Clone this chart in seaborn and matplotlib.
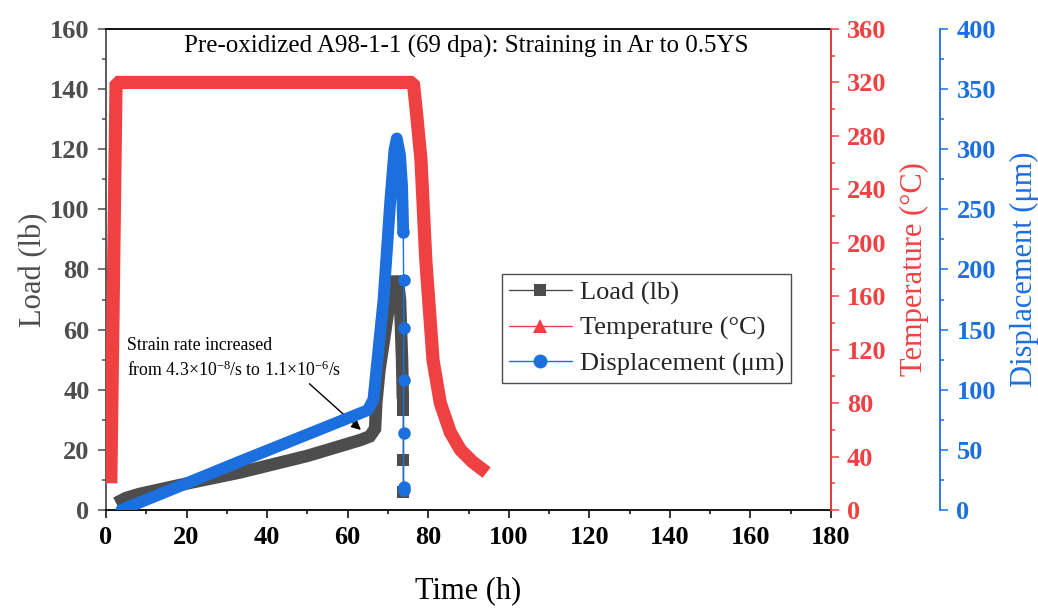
import matplotlib
matplotlib.use("Agg")
import matplotlib.pyplot as plt
from matplotlib.lines import Line2D
from matplotlib.ticker import MultipleLocator
import pandas as pd
import seaborn as sns

sns.set_theme(style="ticks")
plt.rcParams['font.family'] = ['Liberation Serif', 'DejaVu Serif']
plt.rcParams['mathtext.fontset'] = 'custom'
plt.rcParams['mathtext.rm'] = 'Liberation Serif'
plt.rcParams['mathtext.it'] = 'Liberation Serif:italic'

# Load (lb) vs time (h) - dense part
load_t = [2.5, 5.0, 8.2, 20.0, 33.3, 50.0, 63.2, 65.5, 66.8, 67.1, 67.9, 70.5, 71.3, 72.5, 73.0, 73.5, 73.7]
load_v = [2.3, 4.0, 5.3, 8.8, 12.5, 18.0, 23.3, 24.5, 27.0, 35.6, 46.6, 70.0, 76.0, 76.0, 70.0, 50.0, 37.0]
# Load - sparse points after unloading
load_sp_t = [73.7, 73.8, 73.8, 73.8]
load_sp_v = [37.0, 33.3, 16.6, 6.0]

# Temperature (C)
temp_t = [1.2, 2.5, 76.3, 77.0, 78.2, 79.4, 81.2, 83.0, 85.5, 88.0, 91.0, 94.5]
temp_v = [20, 320, 320, 300, 262, 187, 112, 80, 58, 45, 36, 28]

# Displacement (um) - dense part
disp_t = [3.8, 16.6, 33.0, 65.0, 66.4, 68.9, 70.6, 71.6, 72.2, 73.0, 73.5, 73.8]
disp_v = [0, 17.5, 40.0, 83.0, 92.0, 175.0, 258.0, 299.0, 309.0, 295.0, 270.0, 231.0]
# Displacement - sparse points
disp_sp_t = [73.8, 73.9, 73.9, 73.9, 73.9, 73.9, 73.9]
disp_sp_v = [231.0, 191.0, 151.0, 108.0, 64.0, 19.0, 17.0]

c_load = '#4d4d4d'
c_temp = '#f04142'
c_disp = '#1b6fde'

fig = plt.figure(figsize=(10.38, 6.08), dpi=100)
ax = fig.add_axes([0.1021, 0.1612, 0.6985, 0.7911])
ax2 = ax.twinx()
ax3 = ax.twinx()
ax3.spines['right'].set_position(('outward', 78.5))

df_load = pd.DataFrame({'t': load_t, 'v': load_v})
df_load_sp = pd.DataFrame({'t': load_sp_t, 'v': load_sp_v})
df_temp = pd.DataFrame({'t': temp_t, 'v': temp_v})
df_disp = pd.DataFrame({'t': disp_t, 'v': disp_v})
df_disp_sp = pd.DataFrame({'t': disp_sp_t, 'v': disp_sp_v})

sns.lineplot(data=df_load, x='t', y='v', ax=ax, sort=False, estimator=None, color=c_load,
             lw=9, solid_joinstyle='miter', solid_capstyle='butt')
sns.lineplot(data=df_load_sp, x='t', y='v', ax=ax, sort=False, estimator=None, color=c_load,
             lw=1, marker='s', markersize=8, markeredgewidth=0)
sns.lineplot(data=df_temp, x='t', y='v', ax=ax2, sort=False, estimator=None, color=c_temp,
             lw=9.5, solid_joinstyle='bevel', solid_capstyle='butt')
sns.lineplot(data=df_disp, x='t', y='v', ax=ax3, sort=False, estimator=None, color=c_disp,
             lw=8.5, solid_joinstyle='round', solid_capstyle='round')
sns.lineplot(data=df_disp_sp, x='t', y='v', ax=ax3, sort=False, estimator=None, color=c_disp,
             lw=1, marker='o', markersize=9, markeredgewidth=0)

ax.set_xlim(0, 180)
ax.set_ylim(0, 160)
ax2.set_ylim(0, 360)
ax3.set_ylim(0, 400)
ax.xaxis.set_major_locator(MultipleLocator(20))
ax.xaxis.set_minor_locator(MultipleLocator(10))
ax.yaxis.set_major_locator(MultipleLocator(20))
ax.yaxis.set_minor_locator(MultipleLocator(10))
ax2.yaxis.set_major_locator(MultipleLocator(40))
ax2.yaxis.set_minor_locator(MultipleLocator(20))
ax3.yaxis.set_major_locator(MultipleLocator(50))
ax3.yaxis.set_minor_locator(MultipleLocator(25))

for a in (ax, ax2, ax3):
    for s in a.spines.values():
        s.set_linewidth(1.3)
    a.tick_params(which='major', length=5.8, width=1.1, labelsize=19)
    a.tick_params(which='minor', length=3, width=1.1)

ax.spines['top'].set_color('black')
ax.spines['bottom'].set_color('black')
ax.spines['left'].set_color(c_load)
ax2.spines['right'].set_color(c_temp)
ax3.spines['right'].set_color(c_disp)
for a in (ax2, ax3):
    a.spines['left'].set_visible(False)
    a.spines['top'].set_visible(False)
    a.spines['bottom'].set_visible(False)

ax.tick_params(axis='x', which='both', colors='black', pad=6)
ax.tick_params(axis='y', which='both', colors=c_load, pad=6)
ax2.tick_params(axis='y', which='both', colors=c_temp, pad=5.5)
ax3.tick_params(axis='y', which='both', colors=c_disp, pad=6)
for a in (ax, ax2, ax3):
    for lab in a.get_xticklabels() + a.get_yticklabels():
        lab.set_fontweight('bold')

ax.set_xlabel('Time (h)', fontsize=22, color='black', labelpad=19)
ax.set_ylabel('Load (lb)', fontsize=22, color=c_load, labelpad=1)
ax2.set_ylabel('Temperature (°C)', fontsize=22, color=c_temp, labelpad=10)
ax3.set_ylabel('Displacement (μm)', fontsize=22, color=c_disp, labelpad=10)

ax.text(0.497, 0.963, 'Pre-oxidized A98-1-1 (69 dpa): Straining in Ar to 0.5YS',
        transform=ax.transAxes, ha='center', va='center', fontsize=18, color='black')

ax.annotate('', xy=(63.8, 26.0), xytext=(50.0, 42.6),
            arrowprops=dict(arrowstyle='-|>', color='black', lw=1, mutation_scale=14))
ax.text(5.2, 50.4, 'Strain rate increased\nfrom 4.3×10$^{-8}$/s to 1.1×10$^{-6}$/s',
        fontsize=12.8, ha='left', va='center', color='black', linespacing=1.4)

handles = [
    Line2D([], [], color=c_load, lw=1, marker='s', markersize=8.5, markeredgewidth=0),
    Line2D([], [], color=c_temp, lw=1, marker='^', markersize=10, markeredgewidth=0),
    Line2D([], [], color=c_disp, lw=1, marker='o', markersize=10, markeredgewidth=0),
]
labels = ['Load (lb)', 'Temperature (°C)', 'Displacement (μm)']
leg = ax3.legend(handles, labels, loc='upper left', bbox_to_anchor=(0.4836, 0.5493),
                 bbox_transform=fig.transFigure, borderaxespad=0, fontsize=19,
                 frameon=True, fancybox=False, handlelength=2.4, handletextpad=0.3,
                 labelspacing=0.45, borderpad=0.25)
leg.get_frame().set_edgecolor(c_load)
leg.get_frame().set_linewidth(1)
leg.get_frame().set_alpha(1)

fig.savefig('out.png', dpi=100)
